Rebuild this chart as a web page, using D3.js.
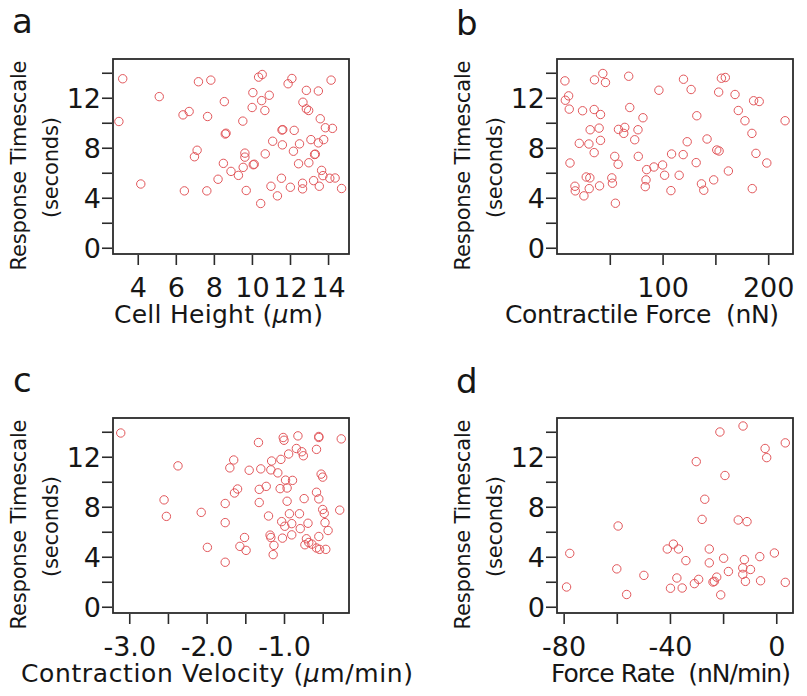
<!DOCTYPE html>
<html><head><meta charset="utf-8">
<script src="https://cdn.jsdelivr.net/npm/d3@7"></script>
<style>
body{margin:0;background:#fff}
svg{display:block}
text{font-family:"DejaVu Sans",sans-serif;fill:#161616;white-space:pre}
</style>
</head><body>
<svg id="chart" width="807" height="696"></svg>
<script>
// ---------- data ----------
const yTicks = [0, 2, 4, 6, 8, 10, 12, 14];
const yTickLabels = ["0", "", "4", "", "8", "", "12", ""];

// panel a: Cell Height (um) vs Response Timescale (s)
const aX = [3.21,3.01,4.16,5.13,6.38,6.70,6.45,7.19,7.84,7.67,7.12,6.98,7.63,8.55,8.60,8.64,8.22,8.50,8.90,9.29,9.52,9.63,9.63,9.54,9.70,10.07,10.12,10.01,10.05,10.35,10.54,10.51,10.68,10.91,10.70,11.09,11.00,10.46,11.34,11.58,11.62,11.60,11.55,11.90,12.10,12.22,12.18,12.02,12.50,12.45,12.66,12.66,12.68,12.86,12.86,12.98,13.10,12.99,13.29,13.33,13.24,13.49,13.49,13.54,13.59,13.77,13.86,13.66,13.73,14.16,14.23,14.09,14.37,14.71];
const aY = [13.52,10.10,5.10,12.09,10.63,10.90,4.55,13.28,13.41,10.50,7.80,7.28,4.55,11.69,9.10,9.16,5.48,6.75,6.11,5.79,10.13,7.57,7.25,6.43,4.58,6.64,6.68,11.22,12.41,13.65,13.86,11.77,10.98,12.20,7.51,8.52,4.92,3.54,4.15,9.42,9.45,8.23,5.56,13.12,13.54,9.39,7.72,4.84,8.31,6.72,5.16,4.71,11.64,12.59,11.11,10.98,8.65,6.80,7.46,7.49,5.37,12.54,8.39,4.92,10.32,8.65,9.60,6.19,5.77,13.41,9.55,5.56,5.58,4.74];
const aTicks = [4, 6, 8, 10, 12, 14];
const aTickLabels = ["4", "6", "8", "10", "12", "14"];

// panel b: Contractile Force (nN)
const bX = [7.5,7.9,11.0,11.6,12.3,17.0,17.3,25.5,21.1,24.2,27.7,31.1,30.5,30.2,31.4,35.5,35.2,35.2,39.9,40.3,41.2,41.2,43.4,45.9,51.9,52.5,54.7,55.3,57.9,58.2,64.2,63.2,67.9,68.9,73.6,77.0,76.7,81.4,84.3,83.6,84.9,91.8,96.5,100.0,101.9,107.9,108.5,115.7,119.8,119.5,123.3,127.0,132.4,131.8,136.8,139.0,142.1,148.4,151.3,153.5,153.1,155.7,159.4,162.3,168.6,171.7,178.0,184.6,184.9,186.2,188.4,191.5,198.7,216.0];
const bY = [13.35,11.80,12.15,11.09,6.78,4.92,4.55,4.15,8.35,10.96,5.66,5.59,4.73,8.30,9.44,13.43,7.61,11.06,9.57,4.95,8.59,10.66,13.94,13.22,5.59,5.16,7.31,3.56,6.68,9.47,9.63,9.15,13.72,11.22,8.64,7.31,9.44,10.40,5.43,4.89,6.25,6.46,12.60,6.62,5.80,4.57,7.50,5.80,13.48,7.45,8.48,12.66,10.56,6.81,5.11,4.60,8.70,5.43,7.82,7.74,12.45,13.56,13.62,6.14,12.26,10.98,10.16,9.15,4.73,11.76,7.55,11.70,6.78,10.16];
const bTicks = [50, 100, 150, 200];
const bTickLabels = ["", "100", "", "200"];

// panel c: Contraction Velocity (um/min)
const cX = [-3.11,-2.55,-2.52,-2.37,-2.07,-1.99,-1.76,-1.76,-1.76,-1.70,-1.65,-1.64,-1.60,-1.57,-1.51,-1.49,-1.45,-1.33,-1.32,-1.32,-1.30,-1.23,-1.20,-1.18,-1.17,-1.13,-1.14,-1.17,-1.16,-1.08,-1.05,-1.04,-1.03,-1.02,-1.01,-1.00,-0.98,-0.96,-0.96,-0.99,-0.93,-0.90,-0.90,-0.94,-0.89,-0.84,-0.82,-0.80,-0.79,-0.77,-0.75,-0.74,-0.69,-0.71,-0.73,-0.68,-0.64,-0.58,-0.54,-0.46,-0.58,-0.55,-0.55,-0.55,-0.58,-0.55,-0.52,-0.50,-0.50,-0.48,-0.47,-0.43,-0.28,-0.26];
const cY = [13.90,8.55,7.23,11.27,7.55,4.75,8.26,6.73,3.56,11.11,11.74,9.10,9.42,4.83,5.54,4.51,10.92,13.14,9.39,8.34,11.03,9.63,7.26,5.73,5.54,4.91,4.17,10.95,11.66,10.71,9.45,11.79,6.81,5.49,13.54,13.32,10.13,9.50,8.44,6.44,7.44,6.65,5.75,12.22,10.11,12.66,13.67,7.44,6.25,12.40,12.08,8.65,6.68,5.44,4.96,5.14,5.01,4.70,4.59,4.59,12.59,13.54,13.62,5.62,9.16,8.63,10.61,10.37,7.78,7.47,6.73,6.10,7.73,13.43];
const cTicks = [-3.0, -2.5, -2.0, -1.5, -1.0, -0.5];
const cTickLabels = ["-3.0", "", "-2.0", "", "-1.0", ""];

// panel d: Force Rate (nN/min)
const dX = [-78.9,-77.7,-60.0,-59.5,-56.3,-49.8,-41.0,-38.7,-36.8,-37.4,-39.8,-35.4,-34.0,-30.8,-29.2,-30.1,-27.9,-26.9,-25.2,-25.2,-23.8,-23.3,-22.4,-21.2,-20.9,-19.3,-19.8,-18.0,-14.3,-12.5,-11.0,-12.0,-12.6,-12.6,-11.6,-9.7,-6.2,-5.9,-4.2,-3.6,-0.7,3.4,3.4];
const dY = [1.58,4.27,3.03,6.46,0.98,2.51,4.62,5.01,4.62,2.30,1.48,1.50,3.69,1.85,2.19,11.61,6.99,8.60,4.62,3.51,1.98,2.03,2.37,13.98,0.95,10.50,3.88,2.82,6.94,14.46,6.81,3.77,3.11,2.59,2.03,2.98,4.01,2.08,12.66,11.93,4.30,13.11,1.95];
const dTicks = [-80, -60, -40, -20, 0];
const dTickLabels = ["-80", "", "-40", "", "0"];

// ---------- layout ----------
const W = 236, H = 195;
const yDomain = [-0.5, 15.1];
const panels = [
  {letter:"a", lx:12, ly:33, left:113, top:59,  xs:aX, ys:aY, xDomain:[2.7,15.1], ticks:aTicks, labels:aTickLabels,
   title:["Cell Height (", "μ", "m)"], titleX:114, titleW:209},
  {letter:"b", lx:456, ly:35, left:557, top:59, xs:bX, ys:bY, xDomain:[0,223.5], ticks:bTicks, labels:bTickLabels,
   title:["Contractile Force  (nN)"], titleX:505, titleW:274},
  {letter:"c", lx:13, ly:392, left:113, top:418, xs:cX, ys:cY, xDomain:[-3.21,-0.16], ticks:cTicks, labels:cTickLabels,
   title:["Contraction Velocity (", "μ", "m/min)"], titleX:21, titleW:392},
  {letter:"d", lx:456, ly:393, left:557, top:418, xs:dX, ys:dY, xDomain:[-82.5,6.3], ticks:dTicks, labels:dTickLabels,
   title:["Force Rate  (nN/min)"], titleX:551, titleW:240}
];

const svg = d3.select("#chart");
const axisColor = "#2b2b2b";
const dotColor = "#e2575b";

panels.forEach(p => {
  const x = d3.scaleLinear().domain(p.xDomain).range([p.left, p.left + W]);
  const y = d3.scaleLinear().domain(yDomain).range([p.top + H, p.top]);
  const g = svg.append("g");

  // panel letter
  g.append("text").attr("x", p.lx).attr("y", p.ly).attr("font-size", 34).text(p.letter);

  // points
  g.append("g").selectAll("circle").data(p.xs.map((v, i) => [v, p.ys[i]])).join("circle")
    .attr("cx", d => x(d[0])).attr("cy", d => y(d[1])).attr("r", 4.2)
    .attr("fill", "none").attr("stroke", dotColor).attr("stroke-width", 1);

  // frame
  g.append("rect").attr("x", p.left).attr("y", p.top).attr("width", W).attr("height", H)
    .attr("fill", "none").attr("stroke", axisColor).attr("stroke-width", 1.8);

  // x axis
  const xa = g.append("g").attr("transform", `translate(0,${p.top + H + 1})`)
    .call(d3.axisBottom(x).tickValues(p.ticks).tickSize(10).tickFormat((d, i) => p.labels[i]));
  xa.select(".domain").remove();
  xa.selectAll("line").attr("stroke", axisColor).attr("stroke-width", 1.6);
  xa.selectAll("text").attr("y", 42).attr("dy", 0).attr("font-size", 27)
    .attr("font-family", "DejaVu Sans").attr("fill", "#161616");

  // y axis
  const ya = g.append("g").attr("transform", `translate(${p.left - 1},0)`)
    .call(d3.axisLeft(y).tickValues(yTicks).tickSize(10).tickFormat((d, i) => yTickLabels[i]));
  ya.select(".domain").remove();
  ya.selectAll("line").attr("stroke", axisColor).attr("stroke-width", 1.6);
  ya.selectAll("text").attr("x", -11).attr("dy", "0.36em").attr("font-size", 27)
    .attr("font-family", "DejaVu Sans").attr("fill", "#161616");

  // y titles
  const cy = p.top + H / 2 + 9;
  g.append("text").attr("transform", `translate(${p.left - 87},${cy}) rotate(-90)`)
    .attr("text-anchor", "middle").attr("font-size", 21).attr("textLength", 210)
    .text("Response Timescale");
  g.append("text").attr("transform", `translate(${p.left - 55},${cy + 2}) rotate(-90)`)
    .attr("text-anchor", "middle").attr("font-size", 21).attr("textLength", 101)
    .text("(seconds)");

  // x title
  const t = g.append("text").attr("x", p.titleX).attr("y", p.top + H + 69)
    .attr("font-size", 25).attr("textLength", p.titleW);
  p.title.forEach(s => {
    const ts = t.append("tspan").text(s);
    if (s === "μ") ts.attr("font-style", "italic");
  });
});
</script>
</body></html>
